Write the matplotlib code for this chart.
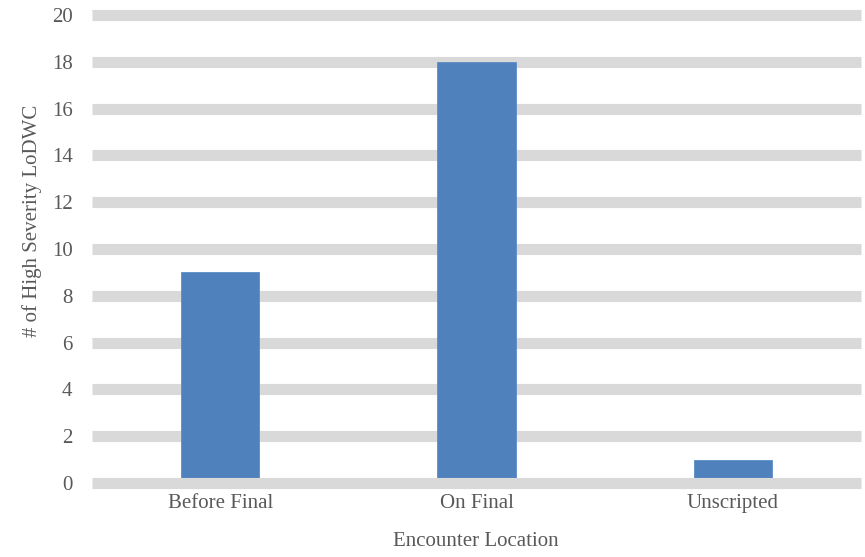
import matplotlib.pyplot as plt
import numpy as np

categories = ["Before Final", "On Final", "Unscripted"]
counts = [9, 18, 1]
y_ticks = [0, 2, 4, 6, 8, 10, 12, 14, 16, 18, 20]

text_color = "#595959"
grid_color = "#d9d9d9"
bar_color = "#4f81bd"

plt.rcParams["font.family"] = ["Liberation Serif", "DejaVu Serif"]

W, H = 865, 557
fig = plt.figure(figsize=(W / 100, H / 100), dpi=100)

# axes placed in pixel terms: y=0 at 483 px, y=20 at 15 px
px_per_unit = (483 - 15) / 20
pad = 0.25
y_top_px = 15 - pad * px_per_unit
y_bot_px = 483 + pad * px_per_unit
x_left_px, x_right_px = 92, 861
ax = fig.add_axes([x_left_px / W, 1 - y_bot_px / H,
                   (x_right_px - x_left_px) / W, (y_bot_px - y_top_px) / H])

x = np.arange(len(categories))
ax.bar(x, counts, width=0.305, color=bar_color, edgecolor="#5b8cc6",
       linewidth=0.6, zorder=3)

for yv in y_ticks:
    ax.axhline(yv, color=grid_color, linewidth=8, zorder=1 if yv else 4,
               clip_on=False, solid_capstyle="butt")

ax.set_xlim(-0.5, 2.5)
ax.set_ylim(-pad, 20 + pad)
ax.set_yticks(y_ticks)
ax.set_xticks(x)
ax.set_xticklabels(categories)
ax.tick_params(axis="both", length=0, labelsize=15, colors=text_color)
ax.tick_params(axis="y", pad=14)
ax.tick_params(axis="x", pad=3.5)
for s in ax.spines.values():
    s.set_visible(False)

ax.set_ylabel("# of High Severity LoDWC", fontsize=15, color=text_color)
ax.yaxis.set_label_coords(42 / W, 1 - 221 / H, transform=fig.transFigure)
ax.set_xlabel("Encounter Location", fontsize=15, color=text_color)
ax.xaxis.set_label_coords(476 / W, 1 - 532 / H, transform=fig.transFigure)

fig.savefig("out.png", dpi=100)
